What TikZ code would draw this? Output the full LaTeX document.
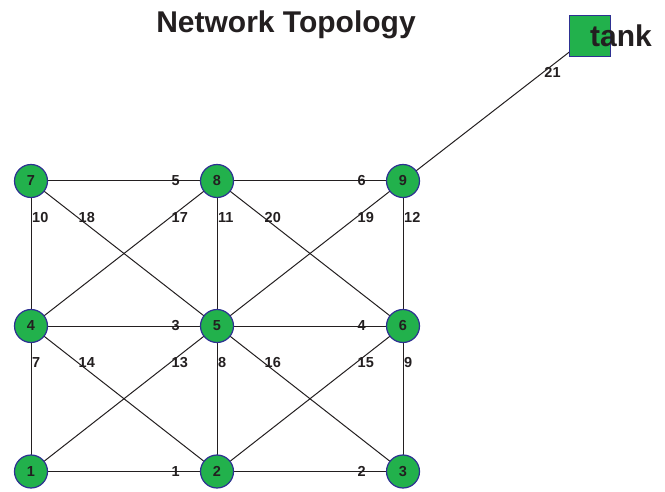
\documentclass[tikz,border=0pt]{standalone}
\usepackage{fontspec}
\setmainfont{Liberation Sans}
\usetikzlibrary{calc}
\definecolor{ngreen}{RGB}{34,177,76}
\definecolor{nborder}{RGB}{46,49,146}
\definecolor{ink}{RGB}{35,31,32}
\tikzset{
  junction/.style={circle,draw=nborder,fill=ngreen,line width=1.2pt,minimum size=33pt,inner sep=0pt},
  tankbox/.style={rectangle,draw=nborder,fill=ngreen,line width=1.2pt,minimum size=41pt,inner sep=0pt},
  nlbl/.style={anchor=west,inner sep=0pt,text=ink,font=\bfseries\fontsize{14.5}{16}\selectfont},
  elbl/.style={anchor=west,inner sep=0pt,xshift=1pt,text=ink,font=\bfseries\fontsize{14.5}{16}\selectfont},
  pipe/.style={draw=ink,line width=1pt}
}
\newcommand{\jn}[3]{\node[junction,label={[nlbl]center:#3}] (#1) at #2 {};}
\begin{document}
\begin{tikzpicture}[x=1pt,y=-1pt]
\useasboundingbox (0,0) rectangle (665,492);
\node[anchor=base,text=ink,font=\bfseries\fontsize{30}{34}\selectfont] (title) at (286,33) {Network Topology};
% edges first (drawn on background via ordering)
\coordinate (c1) at (31,471.5);
\coordinate (c2) at (217,471.5);
\coordinate (c3) at (403,471.5);
\coordinate (c4) at (31,326);
\coordinate (c5) at (217,326);
\coordinate (c6) at (403,326);
\coordinate (c7) at (31,181);
\coordinate (c8) at (217,181);
\coordinate (c9) at (403,181);
\coordinate (ct) at (590,36);
\foreach \a/\b/\l in {8/7/5,9/8/6,5/4/3,6/5/4,2/1/1,3/2/2,
  7/4/10,7/5/18,8/4/17,8/5/11,8/6/20,9/5/19,9/6/12,
  4/1/7,4/2/14,5/1/13,5/2/8,5/3/16,6/2/15,6/3/9,t/9/21}{
  \draw[pipe] (c\a) -- (c\b);
}
\node[tankbox] (tank) at (ct) {};
\node[anchor=base west,inner sep=0pt,text=ink,font=\bfseries\fontsize{30}{34}\selectfont] (tanklbl) at (590,47) {tank};
\jn{n1}{(c1)}{1}
\jn{n2}{(c2)}{2}
\jn{n3}{(c3)}{3}
\jn{n4}{(c4)}{4}
\jn{n5}{(c5)}{5}
\jn{n6}{(c6)}{6}
\jn{n7}{(c7)}{7}
\jn{n8}{(c8)}{8}
\jn{n9}{(c9)}{9}
\foreach \a/\b/\l in {8/7/5,9/8/6,5/4/3,6/5/4,2/1/1,3/2/2,
  7/4/10,7/5/18,8/4/17,8/5/11,8/6/20,9/5/19,9/6/12,
  4/1/7,4/2/14,5/1/13,5/2/8,5/3/16,6/2/15,6/3/9,t/9/21}{
  \node[elbl] (e\l) at ($(c\a)!0.25!(c\b)$) {\l};
}
\end{tikzpicture}
\end{document}
